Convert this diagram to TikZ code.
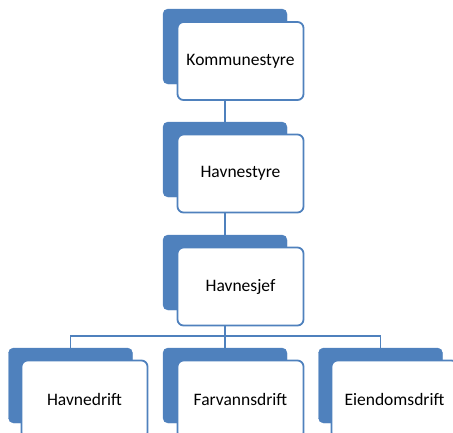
\documentclass[tikz,border=0pt]{standalone}
\usepackage{fontspec}
\setmainfont{Carlito}
\usetikzlibrary{backgrounds}
\definecolor{orgblue}{HTML}{4F81BD}
\tikzset{
  backbox/.style={fill=orgblue, draw=orgblue, rounded corners=5pt,
    minimum width=124pt, minimum height=75pt, inner sep=0pt},
  frontbox/.style={fill=white, draw=orgblue, line width=1.8pt, rounded corners=6pt,
    minimum width=126pt, minimum height=78pt, inner sep=0pt,
    font=\fontsize{17.5}{20}\selectfont},
  link/.style={draw=orgblue, line width=1.8pt}
}
\begin{document}
\begin{tikzpicture}[x=1pt,y=-1pt]
    \useasboundingbox (0,0) rectangle (453,432);
    \clip (0,0) rectangle (453,432);

    \node[backbox] (kb) at (225,46.5) {};
    \node[frontbox] (k) at (240.5,61) {Kommunestyre};

    \node[backbox] (hsb) at (225,159.5) {};
    \node[frontbox] (hs) at (240.5,173.5) {Havnestyre};

    \node[backbox] (hjb) at (225,272.5) {};
    \node[frontbox] (hj) at (240.5,286.5) {Havnesjef};

    \node[backbox] (hdb) at (70.5,385.5) {};
    \node[frontbox] (hd) at (84.5,399.5) {Havnedrift};
    \node[backbox] (fdb) at (225,385.5) {};
    \node[frontbox] (fd) at (240.5,399.5) {Farvannsdrift};
    \node[backbox] (edb) at (380.5,385.5) {};
    \node[frontbox] (ed) at (394.5,399.5) {Eiendomsdrift};

    \coordinate (bus) at (0,336);

    \begin{pgfonlayer}{background}
        \draw[link] (kb.center) -- (hsb.center);
        \draw[link] (hsb.center) -- (hjb.center);
        \draw[link] (hjb.center) -- (hjb |- bus);
        \draw[link] (hdb.center) |- (bus -| edb) -- (edb.center);
        \draw[link] (fdb.center) -- (fdb |- bus);
    \end{pgfonlayer}
\end{tikzpicture}
\end{document}
